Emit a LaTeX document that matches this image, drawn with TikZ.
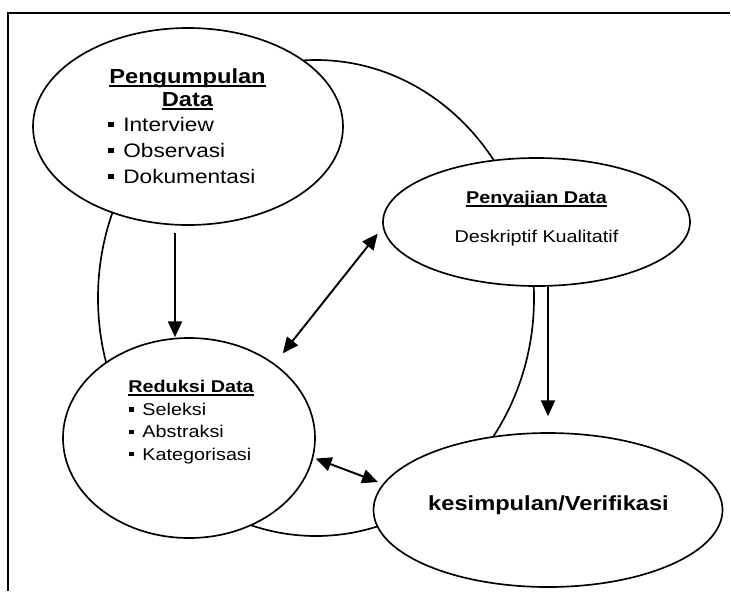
\documentclass[tikz,border=0pt]{standalone}
\usepackage{fontspec}
\setmainfont{Liberation Sans}[FakeStretch=1.16]
\usetikzlibrary{shapes.geometric, arrows.meta}

\newlength{\garislen}
\newcommand{\garis}[1]{\settowidth{\garislen}{#1}\rlap{#1}\rule[-2pt]{\garislen}{1.05pt}}
\newcommand{\butir}{\rule[0.22em]{0.27em}{0.27em}\hspace{0.5em}}

\begin{document}
\begin{tikzpicture}[
  blob/.style={ellipse, draw, line width=0.95pt, fill=white, inner sep=0pt},
  teks/.style={inner sep=0pt},
  besar/.style={teks, font=\fontsize{11.1}{14.7}\selectfont},
  besartebal/.style={teks, font=\fontsize{11.6}{13.3}\selectfont\bfseries},
  kecil/.style={teks, font=\fontsize{9.7}{12.6}\selectfont},
  keciltebal/.style={teks, font=\fontsize{9.7}{12.6}\selectfont\bfseries},
  panah/.style={line width=1.1pt, -{Triangle[length=9pt, width=8pt]}},
  dua/.style={line width=1.1pt, {Triangle[length=9pt, width=8pt]}-{Triangle[length=9pt, width=8pt]}}
]

\useasboundingbox (0,0) rectangle (14.62,11.82);

% bingkai
\draw[line width=1pt] (0.16,0) -- (0.16,11.56) -- (14.6,11.56);

% siklus
\draw[line width=0.95pt] (6.32,5.86) ellipse (4.36 and 4.76);

\node[blob, minimum width=6.2cm, minimum height=3.94cm] (kumpul) at (3.76,9.29) {};
\node[blob, minimum width=6.14cm, minimum height=2.56cm] (saji) at (10.73,7.38) {};
\node[blob, minimum width=5.04cm, minimum height=4cm] (reduksi) at (3.78,3.06) {};
\node[blob, minimum width=6.98cm, minimum height=3.08cm] (simpul) at (10.96,1.62) {};

% teks (anchor=base ada di baris terakhir)
\node[besartebal, align=center, anchor=base] (kumpul-judul) at (3.75,9.686) {\garis{Pengumpulan}\\ \garis{Data}};
\node[besar, align=left, anchor=base west] (kumpul-isi) at (2.16,8.154) {\butir Interview\\ \butir Observasi\\ \butir Dokumentasi};

\node[keciltebal, anchor=base] (saji-judul) at (10.73,7.76) {\garis{Penyajian Data}};
\node[kecil, anchor=base] (saji-isi) at (10.73,6.98) {Deskriptif Kualitatif};

\node[keciltebal, anchor=base west] (reduksi-judul) at (2.56,3.966) {\garis{Reduksi Data}};
\node[kecil, align=left, anchor=base west] (reduksi-isi) at (2.58,2.62) {\butir Seleksi\\ \butir Abstraksi\\ \butir Kategorisasi};

\node[besartebal, anchor=base] (simpul-isi) at (10.97,1.62) {kesimpulan/Verifikasi};

\draw[panah, shorten <=0.14cm] ([xshift=-0.26cm]kumpul.south) -- ([xshift=-0.28cm]reduksi.north);
\draw[dua, shorten <=7.5pt, shorten >=4.6pt] (reduksi.41.9) -- (saji.182.9);
\draw[panah, shorten >=9.1pt] (saji.south -| simpul.north) -- (simpul.north);
\draw[dua, shorten <=1.4pt, shorten >=3pt] (reduksi.351.3) -- (simpul.171);

\end{tikzpicture}
\end{document}
